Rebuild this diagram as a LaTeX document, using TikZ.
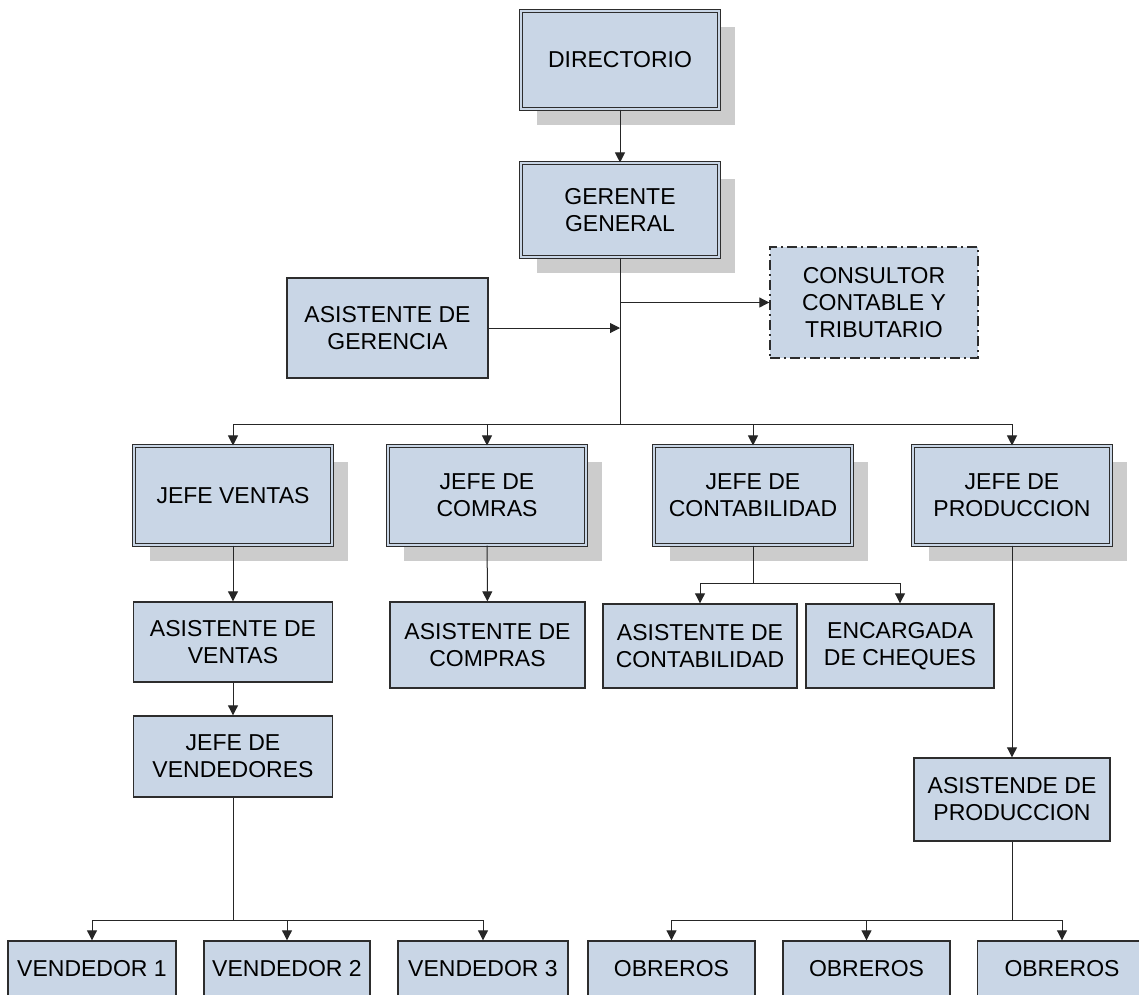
\documentclass[tikz,border=0pt]{standalone}
\usepackage{fontspec}
\setmainfont{Liberation Sans}
\usetikzlibrary{arrows.meta,shadows}
\definecolor{boxblue}{RGB}{201,214,230}
\definecolor{shadowgray}{RGB}{204,204,204}
\definecolor{edgegray}{RGB}{45,45,45}

\begin{document}
\begin{tikzpicture}[
        %We set the scale (one unit is one pixel) and define some styles
        x=1pt, y=-1pt,
        every node/.style={color=black, font=\fontsize{23}{27}\selectfont, align=center, inner sep=0pt},
        plain box/.style={draw=edgegray, line width=1.4pt, fill=boxblue},
        head box/.style={draw=edgegray, line width=1.1pt, double=boxblue, double distance=1.6pt, fill=boxblue,
            drop shadow={shadow xshift=16pt, shadow yshift=-16pt, fill=shadowgray, opacity=1}},
        advisor box/.style={plain box, dash pattern=on 10pt off 4pt on 2pt off 4pt},
        size/.style 2 args={minimum width=#1pt, minimum height=#2pt},
        link/.style={line width=1pt, black!85},
        arrow/.style={link, -{Triangle[length=10pt, width=10pt]}}
     ]
    \useasboundingbox (0,0) rectangle (1139,994);
    \fill[white] (0,0) rectangle (1139,994);
    \clip (0,0) rectangle (1139,994);

    % Top of the chart
    \node[head box, size={198}{98}] (dir) at (620,60) {DIRECTORIO};
    \node[head box, size={198}{94}] (ger) at (620,210) {GERENTE\\GENERAL};
    \node[advisor box, size={208}{111}] (cons) at (874,302.5) {CONSULTOR\\CONTABLE Y\\TRIBUTARIO};
    \node[plain box, size={201}{100}] (asisger) at (387.5,328) {ASISTENTE DE\\GERENCIA};

    % Heads of department
    \node[head box, size={198}{99}] (jventas) at (233,495.5) {JEFE VENTAS};
    \node[head box, size={198}{99}] (jcompras) at (487,495.5) {JEFE DE\\COMRAS};
    \node[head box, size={198}{99}] (jconta) at (753,495.5) {JEFE DE\\CONTABILIDAD};
    \node[head box, size={198}{99}] (jprod) at (1012,495.5) {JEFE DE\\PRODUCCION};

    % Assistants
    \node[plain box, size={199}{80}] (asisventas) at (233,642) {ASISTENTE DE\\VENTAS};
    \node[plain box, size={199}{81}] (jvend) at (233,756.5) {JEFE DE\\VENDEDORES};
    \node[plain box, size={195}{86}] (asiscompras) at (487.5,645) {ASISTENTE DE\\COMPRAS};
    \node[plain box, size={194}{84}] (asisconta) at (700,646) {ASISTENTE DE\\CONTABILIDAD};
    \node[plain box, size={188}{84}] (encargada) at (900,646) {ENCARGADA\\DE CHEQUES};
    \node[plain box, size={196}{83}] (asisprod) at (1012,799.5) {ASISTENDE DE\\PRODUCCION};

    % Bottom row
    \node[plain box, size={168}{56}] (vend1) at (92,969) {VENDEDOR 1};
    \node[plain box, size={166}{56}] (vend2) at (287,969) {VENDEDOR 2};
    \node[plain box, size={170}{56}] (vend3) at (483,969) {VENDEDOR 3};
    \node[plain box, size={167}{56}] (obr1) at (671.5,969) {OBREROS};
    \node[plain box, size={167}{56}] (obr2) at (866.5,969) {OBREROS};
    \node[plain box, size={169}{56}] (obr3) at (1062,969) {OBREROS};

    % Branching points
    \coordinate (busA) at (620,424);
    \coordinate (busC) at (753,583);
    \coordinate (busV) at (233,920);
    \coordinate (busO) at (1012,920);

    % Connectors
    \draw[arrow] (dir) -- (ger);
    \draw[link] (ger) -- (busA);
    \draw[arrow] (ger.south |- cons.west) -- (cons.west);
    \draw[arrow] (asisger) -- (asisger -| busA);
    \foreach \j in {jventas,jcompras,jconta,jprod}
        \draw[arrow] (busA) -| (\j.north);
    \draw[arrow] (jventas) -- (asisventas);
    \draw[arrow] (asisventas) -- (jvend);
    \draw[arrow] (jcompras) -- (asiscompras);
    \draw[link] (jconta) -- (busC);
    \foreach \a in {asisconta,encargada}
        \draw[arrow] (busC) -| (\a.north);
    \draw[arrow] (jprod) -- (asisprod);
    \draw[link] (jvend) -- (busV);
    \foreach \v in {vend1,vend2,vend3}
        \draw[arrow] (busV) -| (\v.north);
    \draw[link] (asisprod) -- (busO);
    \foreach \o in {obr1,obr2,obr3}
        \draw[arrow] (busO) -| (\o.north);
\end{tikzpicture}
\end{document}
